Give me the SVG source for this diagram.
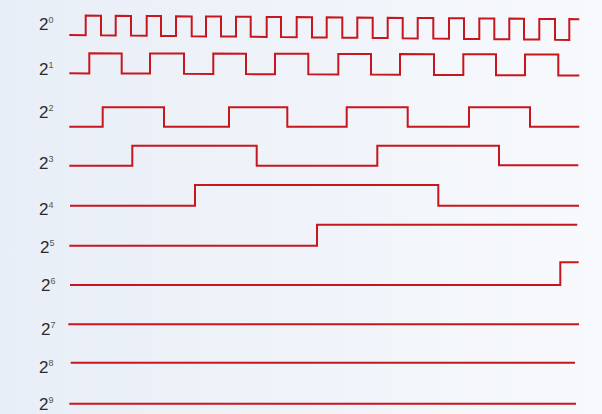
<svg xmlns="http://www.w3.org/2000/svg" width="602" height="414" viewBox="0 0 602 414">
<defs>
<linearGradient id="bg" x1="0" y1="0" x2="1" y2="0">
<stop offset="0" stop-color="#e8eef7"/>
<stop offset="1" stop-color="#f7f9fc"/>
</linearGradient>
</defs>
<style>
.lbl{font-family:"Liberation Sans",Arial,sans-serif;font-size:17px;fill:#2b2b2b}
.sup{font-size:9px;fill:#555}
.w{fill:none;stroke:#c8161e;stroke-width:2;stroke-linejoin:miter}
</style>
<rect width="602" height="414" fill="url(#bg)"/>
<g id="row0">
<text class="lbl" x="39" y="30">2<tspan class="sup" dy="-7">0</tspan></text>
<path class="w" d="M69.3,35 L85.7,35.2 V15.6 L101,15.7 V35.3 L115.7,35.5 V15.8 L131,15.9 V35.6 L146.7,35.8 V16 L161,16.1 V35.9 L176,36.1 V16.3 L191.7,16.4 V36.2 L206,36.4 V16.5 L221,16.6 V36.5 L236,36.6 V16.7 L250.7,16.8 V36.8 L266.7,36.9 V16.9 L281,17 V37.1 L296.7,37.2 V17.1 L312,17.2 V37.4 L326.7,37.5 V17.3 L342.3,17.5 V37.7 L357.3,37.8 V17.6 L372.7,17.7 V38 L387.7,38.1 V17.8 L402.7,17.9 V38.3 L417.7,38.4 V18 L433.3,18.1 V38.6 L449,38.7 V18.2 L464,18.3 V38.9 L479.3,39 V18.4 L494.3,18.5 V39.2 L509.3,39.3 V18.6 L524,18.8 V39.5 L539.3,39.6 V18.9 L555,19 V39.8 L569.3,39.9 V19.1 L579.3,19.2"/>
</g>
<g id="row1">
<text class="lbl" x="39" y="75">2<tspan class="sup" dy="-7">1</tspan></text>
<path class="w" d="M69.3,73.3 L89.3,73.4 V53.3 L121.7,53.4 V73.5 L150,73.6 V53.5 L184,53.5 V73.8 L213.3,73.9 V53.6 L246,53.7 V74.1 L275,74.2 V53.8 L308.3,53.8 V74.3 L338.3,74.5 V53.9 L371,54 V74.6 L400,74.8 V54.1 L434,54.2 V74.9 L463.3,75 V54.2 L496,54.3 V75.2 L525,75.3 V54.4 L558.3,54.5 V75.5 L579.3,75.5"/>
</g>
<g id="row2">
<text class="lbl" x="39" y="118">2<tspan class="sup" dy="-7">2</tspan></text>
<path class="w" d="M69.3,126.7 H102.7 V107.3 H164 V126.7 H229 V107.3 H287.3 V126.7 H346.7 V107.3 H407.7 V126.7 H469 V107.3 H530 V126.7 H579.3"/>
</g>
<g id="row3">
<text class="lbl" x="39" y="169">2<tspan class="sup" dy="-7">3</tspan></text>
<path class="w" d="M69.3,165.7 H132.3 V145.7 H256.7 V165.7 H377.3 V145.7 H499 V165.3 H578.3"/>
</g>
<g id="row4">
<text class="lbl" x="39" y="215">2<tspan class="sup" dy="-7">4</tspan></text>
<path class="w" d="M70,205.7 H195 V185 H438.3 V205.7 H579"/>
</g>
<g id="row5">
<text class="lbl" x="40" y="253">2<tspan class="sup" dy="-7">5</tspan></text>
<path class="w" d="M69.3,245.7 H317 V224.7 H577.3"/>
</g>
<g id="row6">
<text class="lbl" x="41" y="291">2<tspan class="sup" dy="-7">6</tspan></text>
<path class="w" d="M70,285 H560.3 V262.3 H578.7"/>
</g>
<g id="row7">
<text class="lbl" x="41" y="335">2<tspan class="sup" dy="-7">7</tspan></text>
<path class="w" d="M68.3,324.3 H579"/>
</g>
<g id="row8">
<text class="lbl" x="39" y="373">2<tspan class="sup" dy="-7">8</tspan></text>
<path class="w" d="M70.7,362.7 H575"/>
</g>
<g id="row9">
<text class="lbl" x="39" y="410">2<tspan class="sup" dy="-7">9</tspan></text>
<path class="w" d="M69.3,403.7 H576"/>
</g>
<g id="connectors"></g>
</svg>
